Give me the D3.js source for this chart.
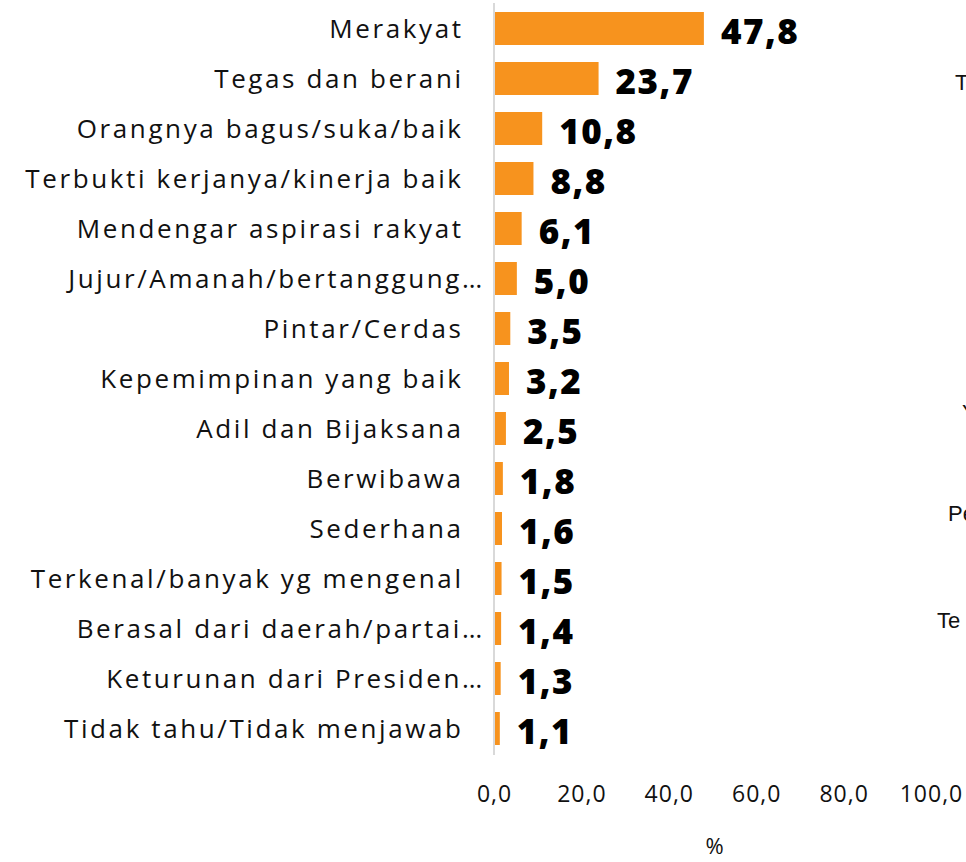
<!DOCTYPE html>
<html><head><meta charset="utf-8">
<script src="https://cdn.jsdelivr.net/npm/d3@7"></script>
<style>
html,body{margin:0;padding:0;background:#fff;}
svg{display:block;}
</style></head>
<body>
<svg id="c" width="966" height="862"></svg>
<script>
const categories = [
  "Merakyat","Tegas dan berani","Orangnya bagus/suka/baik","Terbukti kerjanya/kinerja baik",
  "Mendengar aspirasi rakyat","Jujur/Amanah/bertanggung…","Pintar/Cerdas","Kepemimpinan yang baik",
  "Adil dan Bijaksana","Berwibawa","Sederhana","Terkenal/banyak yg mengenal",
  "Berasal dari daerah/partai…","Keturunan dari Presiden…","Tidak tahu/Tidak menjawab"
];
const values = [47.8,23.7,10.8,8.8,6.1,5.0,3.5,3.2,2.5,1.8,1.6,1.5,1.4,1.3,1.1];
const tickValues = [0,20,40,60,80,100];
const axisTitle = "%";
const sideLabels = ["T","Y","Pe","Te"];
const sideLabelY = [82,412,513,620];
const sideLabelX = [955,962,948,937];

const FONT = "'Open Sans', 'Noto Sans', sans-serif";
const svg = d3.select("#c");
const fmt = v => v.toFixed(1).replace(".", ",");

const x = d3.scaleLinear().domain([0,100]).range([494,931]);
const y = d3.scaleBand().domain(categories).range([3.5,753.5]).paddingInner(0.34).paddingOuter(0.17);

// axis line
svg.append("line").attr("x1",494).attr("x2",494).attr("y1",3).attr("y2",755)
  .attr("stroke","#d9d9d9").attr("stroke-width",2);

// bars
svg.selectAll("rect.bar").data(values).join("rect")
  .attr("x", x(0)+1).attr("y",(d,i)=>y(categories[i]))
  .attr("width", d=>x(d)-x(0)).attr("height", y.bandwidth())
  .attr("fill","#F7931E");

// category labels (single text each; truncated ones let the ellipsis hang past the edge)
const LS = 2.6;
const probe = svg.append("text").attr("font-family",FONT).attr("font-size",26)
  .attr("letter-spacing",LS).text("…");
const ellW = probe.node().getComputedTextLength();
probe.remove();

svg.selectAll("text.lab").data(categories).join("text")
  .attr("class","lab")
  .attr("x",c => 461 + LS + (c.endsWith("…") ? ellW - LS + 1 : 0))
  .attr("y",c => y(c)+y.bandwidth()/2).attr("dy","0.36em")
  .attr("text-anchor","end").attr("font-family",FONT).attr("font-size",26)
  .attr("letter-spacing",LS).attr("fill","#111").text(c=>c);

// value labels
svg.selectAll("text.val").data(values).join("text")
  .attr("class","val")
  .attr("x",d=>x(d)+18).attr("y",(d,i)=>y(categories[i])+y.bandwidth()/2+3)
  .attr("dy","0.36em").attr("font-family",FONT).attr("font-weight",800)
  .attr("font-size",35).attr("letter-spacing",1.5).attr("fill","#000").text(fmt);

// x axis ticks
const ax = svg.append("g").attr("transform","translate(0,786)")
  .call(d3.axisBottom(x).tickValues(tickValues).tickFormat(fmt).tickSize(0).tickPadding(0));
ax.select(".domain").remove();
ax.selectAll("text").attr("font-family",FONT).attr("font-size",23).attr("letter-spacing",1)
  .attr("fill","#111").attr("dy","0.71em");

svg.append("text").attr("x",(x(0)+x(100))/2+2).attr("y",846).attr("dy","0.35em")
  .attr("text-anchor","middle").attr("font-family",FONT).attr("font-size",22).attr("fill","#111").text(axisTitle);

// partial labels of neighbouring chart (cut by the page edge, as in the reference)
svg.selectAll("text.side").data(sideLabels).join("text")
  .attr("class","side")
  .attr("x",(d,i)=>sideLabelX[i]).attr("y",(d,i)=>sideLabelY[i]).attr("dy","0.35em")
  .attr("font-family","'Liberation Sans', Arial, sans-serif").attr("font-size",22).attr("fill","#111").text(d=>d);
</script>
</body></html>
